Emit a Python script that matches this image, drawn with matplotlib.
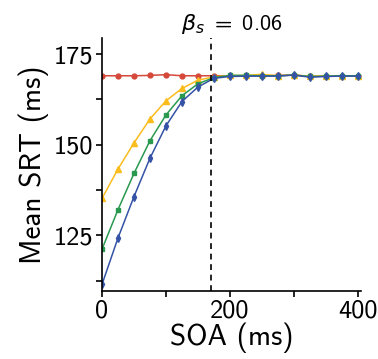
import matplotlib
matplotlib.use("Agg")
import matplotlib.pyplot as plt
import warnings
warnings.filterwarnings("ignore")

soa = [0, 25, 50, 75, 100, 125, 150, 175, 200, 225, 250, 275, 300, 325, 350, 375, 400]
red = [169.0, 169.0, 169.0, 169.1, 169.3, 169.0, 169.0, 169.0, 169.0, 169.0, 169.0, 169.1, 169.2, 168.8, 168.9, 169.0, 169.0]
yellow = [135.2, 143.3, 150.5, 157.1, 162.1, 165.5, 167.8, 168.7, 169.1, 169.1, 169.4, 169.0, 169.2, 168.9, 169.0, 169.0, 169.0]
green = [121.2, 132.1, 142.1, 151.1, 158.2, 163.5, 166.8, 168.5, 169.1, 169.1, 169.0, 169.0, 169.2, 168.8, 168.9, 169.0, 169.0]
blue = [111.5, 124.3, 135.7, 146.3, 155.2, 161.9, 165.9, 168.3, 168.8, 168.9, 168.9, 168.9, 169.2, 168.6, 168.8, 168.9, 168.9]
beta_s = 0.06
soa_crit = 170
xticks = [0, 100, 200, 300, 400]
xticklabels = ['0', '', '200', '', '400']
yticks = [112.5, 125, 137.5, 150, 162.5, 175]
yticklabels = ['', '125', '', '150', '', '175']

plt.rcParams['font.family'] = ['cmss10', 'DejaVu Sans']
plt.rcParams['axes.unicode_minus'] = False
plt.rcParams['mathtext.fontset'] = 'custom'
plt.rcParams['mathtext.rm'] = 'cmss10'
plt.rcParams['mathtext.it'] = 'DejaVu Sans:italic'
plt.rcParams['mathtext.fallback'] = 'stixsans'

fig = plt.figure(figsize=(3.78, 3.59), dpi=100)
ax = fig.add_axes([0.27, 0.189, 0.685, 0.705])

ax.plot(soa, red, color='#d5483a', marker='o', markersize=3.5, lw=1.1)
ax.plot(soa, yellow, color='#fbbc1e', marker='^', markersize=4.5, lw=1.1)
ax.plot(soa, green, color='#2a9950', marker='s', markersize=3.2, lw=1.1)
ax.plot(soa, blue, color='#3553a6', marker='d', markersize=4.2, lw=1.1)
ax.axvline(soa_crit, color='black', ls=(0, (3.5, 2.8)), lw=1.2)

ax.set_xlim(0, 405)
ax.set_ylim(109.6, 179.4)
ax.set_xticks(xticks)
ax.set_xticklabels(xticklabels)
ax.set_yticks(yticks)
ax.set_yticklabels(yticklabels)
ax.tick_params(labelsize=19, width=1.2, length=4, pad=2)
ax.spines['top'].set_visible(False)
ax.spines['right'].set_visible(False)
ax.spines['left'].set_linewidth(1.2)
ax.spines['bottom'].set_linewidth(1.2)
ax.set_xlabel('SOA (ms)', fontsize=21, labelpad=0)
ax.set_ylabel('Mean SRT (ms)', fontsize=21, labelpad=4)
ax.set_title(r'$\beta_s\;=\;%.2f$' % beta_s, fontsize=16, pad=6)

fig.savefig('out.png', dpi=100)
